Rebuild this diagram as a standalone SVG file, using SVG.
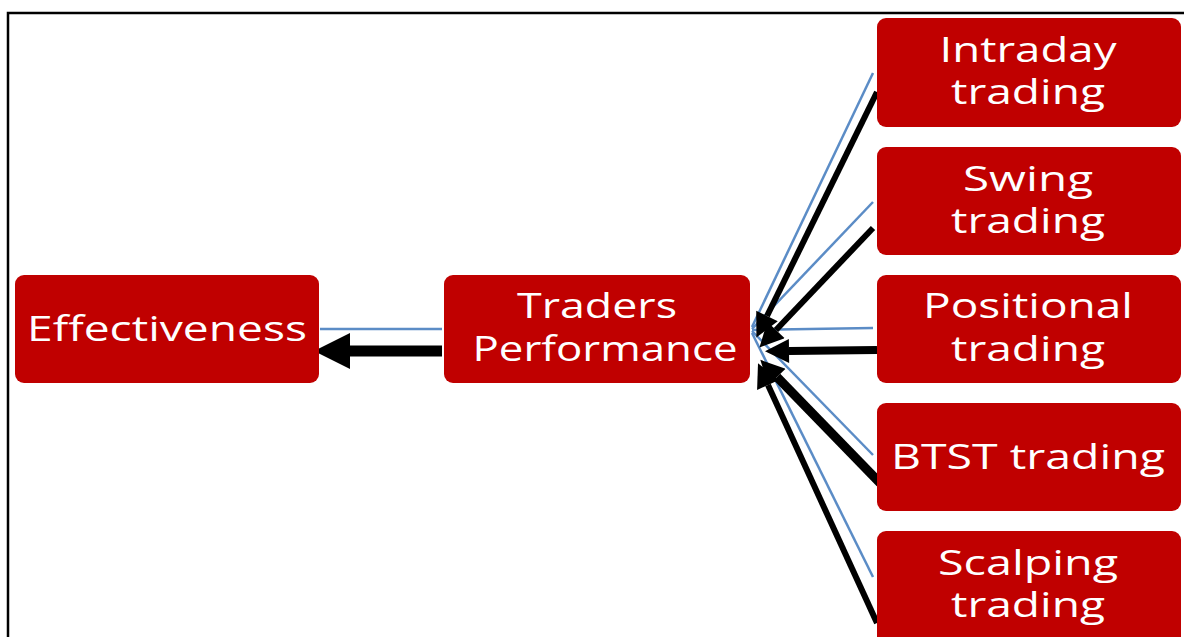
<svg xmlns="http://www.w3.org/2000/svg" width="1184" height="637" viewBox="0 0 1184 637">
<style>
.box{fill:#c00000}
.t{fill:#ffffff;font-family:"Open Sans","DejaVu Sans",sans-serif;font-size:34px;text-anchor:middle}
.blue{stroke:#5b8cc6;stroke-width:2.5;fill:none}
.blk{stroke:#000;fill:none}
</style>
<defs>
<marker id="ah" viewBox="0 0 10 10" refX="0" refY="5" markerWidth="28" markerHeight="24" markerUnits="userSpaceOnUse" orient="auto-start-reverse">
<path d="M0,0 L10,5 L0,10 z" fill="#000"/>
</marker>
<marker id="ahBig" viewBox="0 0 10 10" refX="0" refY="5" markerWidth="36" markerHeight="36" markerUnits="userSpaceOnUse" orient="auto-start-reverse">
<path d="M0,0 L10,5 L0,10 z" fill="#000"/>
</marker>
</defs>
<rect x="0" y="0" width="1184" height="637" fill="#fff"/>
<path d="M8,637 V13 H1184" fill="none" stroke="#000" stroke-width="2.5"/>
<g id="connectors">
<line class="blue" x1="320" y1="329" x2="442" y2="329"/>
<line class="blue" x1="873" y1="73" x2="752" y2="327"/>
<line class="blue" x1="873" y1="202" x2="752" y2="329"/>
<line class="blue" x1="873" y1="328" x2="752" y2="330"/>
<line class="blue" x1="873" y1="455" x2="752" y2="331"/>
<line class="blue" x1="873" y1="577" x2="752" y2="333"/>
<line class="blk" stroke-width="11" x1="442" y1="351" x2="350" y2="351" marker-end="url(#ahBig)"/>
<line class="blk" stroke-width="6" x1="877" y1="92" x2="767" y2="316" marker-end="url(#ah)"/>
<line class="blk" stroke-width="6" x1="873" y1="228" x2="776" y2="330" marker-end="url(#ah)"/>
<line class="blk" stroke-width="8" x1="877" y1="350" x2="789" y2="351" marker-end="url(#ah)"/>
<line class="blk" stroke-width="9" x1="880" y1="483" x2="777" y2="377" marker-end="url(#ah)"/>
<line class="blk" stroke-width="6" x1="877" y1="623" x2="768" y2="385" marker-end="url(#ah)"/>
</g>
<g id="effectiveness">
<rect class="box" x="15" y="275" width="304" height="108" rx="9"/>
<text class="t" x="167" y="341" textLength="280" lengthAdjust="spacingAndGlyphs">Effectiveness</text>
</g>
<g id="traders-performance">
<rect class="box" x="444" y="275" width="306" height="108" rx="9"/>
<text class="t" x="597" y="318" textLength="160" lengthAdjust="spacingAndGlyphs">Traders</text>
<text class="t" x="605" y="361" textLength="265" lengthAdjust="spacingAndGlyphs">Performance</text>
</g>
<g id="intraday">
<rect class="box" x="877" y="18" width="304" height="109" rx="9"/>
<text class="t" x="1028" y="62" textLength="177" lengthAdjust="spacingAndGlyphs">Intraday</text>
<text class="t" x="1028" y="104" textLength="154" lengthAdjust="spacingAndGlyphs">trading</text>
</g>
<g id="swing">
<rect class="box" x="877" y="147" width="304" height="108" rx="9"/>
<text class="t" x="1028" y="191" textLength="130" lengthAdjust="spacingAndGlyphs">Swing</text>
<text class="t" x="1028" y="233" textLength="154" lengthAdjust="spacingAndGlyphs">trading</text>
</g>
<g id="positional">
<rect class="box" x="877" y="275" width="304" height="108" rx="9"/>
<text class="t" x="1028" y="318" textLength="210" lengthAdjust="spacingAndGlyphs">Positional</text>
<text class="t" x="1028" y="361" textLength="154" lengthAdjust="spacingAndGlyphs">trading</text>
</g>
<g id="btst">
<rect class="box" x="877" y="403" width="304" height="108" rx="9"/>
<text class="t" x="1028" y="469" textLength="274" lengthAdjust="spacingAndGlyphs">BTST trading</text>
</g>
<g id="scalping">
<rect class="box" x="877" y="531" width="304" height="115" rx="9"/>
<text class="t" x="1028" y="575" textLength="180" lengthAdjust="spacingAndGlyphs">Scalping</text>
<text class="t" x="1028" y="617" textLength="154" lengthAdjust="spacingAndGlyphs">trading</text>
</g>
</svg>
